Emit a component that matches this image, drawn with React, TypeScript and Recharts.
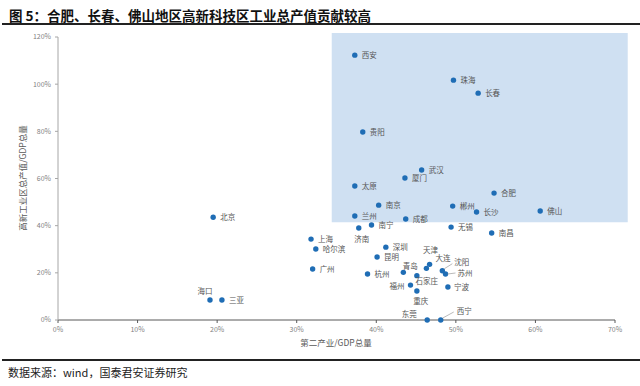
import { ScatterChart, Scatter, XAxis, YAxis, ReferenceArea } from 'recharts'

// 城市、第二产业/GDP(%)、高新区工业总产值/GDP(%)
const cities = [
  '西安', '珠海', '长春', '贵阳', '武汉', '厦门', '太原', '合肥', '南京', '郴州',
  '长沙', '佛山', '兰州', '成都', '北京', '南宁', '济南', '无锡', '南昌', '上海',
  '哈尔滨', '深圳', '昆明', '广州', '杭州', '天津', '大连', '青岛', '石家庄', '沈阳',
  '苏州', '福州', '宁波', '重庆', '东莞', '西宁', '海口', '三亚',
]
const industryShare = [
  37.3, 49.7, 52.8, 38.3, 45.7, 43.6, 37.3, 54.8, 40.3, 49.6,
  52.6, 60.6, 37.3, 43.7, 19.5, 39.4, 37.8, 49.4, 54.5, 31.8,
  32.4, 41.2, 40.1, 32.0, 38.9, 46.3, 46.7, 43.4, 45.1, 48.3,
  48.7, 44.3, 49.0, 45.1, 46.4, 48.1, 19.1, 20.6,
]
const hiTechShare = [
  112.3, 101.7, 96.2, 79.7, 63.6, 60.2, 56.8, 53.8, 48.7, 48.3,
  45.8, 46.2, 44.1, 42.8, 43.6, 40.3, 39.0, 39.4, 36.9, 34.3,
  30.1, 30.9, 26.7, 21.6, 19.5, 21.9, 23.6, 20.2, 18.8, 20.9,
  19.5, 14.8, 14.0, 12.3, 0, 0, 8.5, 8.5,
]
const xTicks = [0, 10, 20, 30, 40, 50, 60, 70]
const yTicks = [0, 20, 40, 60, 80, 100, 120]

const data = cities.map((name, i) => ({ name, x: industryShare[i], y: hiTechShare[i] }))

// label placement relative to the dot (px)
type Place = { dx: number; dy: number; anchor?: 'start' | 'middle' | 'end'; lead?: [number, number, number, number] }
const labelPlace: Record<string, Place> = {
  济南: { dx: 3, dy: 11, anchor: 'middle' },
  海口: { dx: -5, dy: -9, anchor: 'middle' },
  天津: { dx: 4, dy: -18, anchor: 'middle' },
  大连: { dx: 6, dy: -6 },
  沈阳: { dx: 12, dy: -8, lead: [2, -2, 10, -7] },
  苏州: { dx: 12, dy: -1, lead: [2, 0, 10, -1] },
  青岛: { dx: 7, dy: -6, anchor: 'middle' },
  石家庄: { dx: 10, dy: 6, anchor: 'middle' },
  福州: { dx: -6, dy: 1, anchor: 'end' },
  宁波: { dx: 6, dy: 0 },
  重庆: { dx: 4, dy: 10, anchor: 'middle' },
  东莞: { dx: -18, dy: -6, anchor: 'middle' },
  西宁: { dx: 16, dy: -9, lead: [2, -2, 13, -8] },
}

const font = '"Noto Sans CJK SC", "Noto Sans", sans-serif'

const Dot = (props: any) => {
  const { cx, cy, payload } = props
  const p = labelPlace[payload.name] || { dx: 7, dy: 0 }
  return (
    <g>
      <circle cx={cx} cy={cy} r={2.7} fill="#1f6db5" />
      {p.lead && (
        <line
          x1={cx + p.lead[0]} y1={cy + p.lead[1]} x2={cx + p.lead[2]} y2={cy + p.lead[3]}
          stroke="#8c8c8c" strokeWidth={0.6}
        />
      )}
      <text
        x={cx + p.dx}
        y={cy + p.dy}
        dy="0.35em"
        textAnchor={p.anchor || 'start'}
        fontSize={7.5}
        fontFamily={font}
        fill="#555"
      >
        {payload.name}
      </text>
    </g>
  )
}

export default function App() {
  return (
    <div style={{ position: 'absolute', left: 0, top: 0, width: 640, height: 386, background: '#fff', fontFamily: font }}>
      <div style={{ position: 'absolute', left: 9, top: 5, fontSize: 13.5, fontWeight: 700, color: '#111', lineHeight: '20px', whiteSpace: 'nowrap' }}>
        图 5：合肥、长春、佛山地区高新科技区工业总产值贡献较高
      </div>
      <div style={{ position: 'absolute', left: 2, right: 0, top: 23, height: 2, background: '#222' }} />

      <div style={{ position: 'absolute', left: 0, top: 0 }}>
        <ScatterChart width={640} height={386} margin={{ top: 37, right: 25, bottom: 0, left: 0 }}>
          <ReferenceArea
            x1={34.4} x2={71.6} y1={41.5} y2={121.7}
            ifOverflow="visible"
            fill="#cfe0f2" fillOpacity={1} stroke="none"
          />
          <XAxis
            type="number" dataKey="x" domain={[0, 70]} ticks={xTicks}
            tickFormatter={(v: number) => `${v}%`}
            height={66} tickSize={3} tickMargin={4}
            tick={{ fontSize: 7, fill: '#7f7f7f', fontFamily: font }}
            axisLine={{ stroke: '#595959' }} tickLine={{ stroke: '#595959' }}
          />
          <YAxis
            type="number" dataKey="y" domain={[0, 120]} ticks={yTicks}
            tickFormatter={(v: number) => `${v}%`}
            width={58} tickSize={3} tickMargin={4}
            tick={{ fontSize: 7, fill: '#7f7f7f', fontFamily: font }}
            axisLine={{ stroke: '#a6a6a6' }} tickLine={{ stroke: '#a6a6a6' }}
          />
          <Scatter data={data} shape={Dot} isAnimationActive={false} />
        </ScatterChart>
      </div>

      <div style={{ position: 'absolute', left: 0, width: 640, top: 336, textAlign: 'center', fontSize: 8.5, color: '#595959', paddingLeft: 32, boxSizing: 'border-box' }}>
        第二产业/GDP总量
      </div>
      <div style={{ position: 'absolute', left: 22, top: 178, width: 0, height: 0 }}>
        <div style={{ position: 'absolute', transform: 'translate(-50%, -50%) rotate(-90deg)', fontSize: 8.5, color: '#595959', whiteSpace: 'nowrap' }}>
          高新工业区总产值/GDP总量
        </div>
      </div>

      <div style={{ position: 'absolute', left: 2, right: 0, top: 359, height: 2, background: '#222' }} />
      <div style={{ position: 'absolute', left: 8, top: 365, fontSize: 11, color: '#222', lineHeight: '15px', whiteSpace: 'nowrap' }}>
        数据来源：wind，国泰君安证券研究
      </div>
    </div>
  )
}
